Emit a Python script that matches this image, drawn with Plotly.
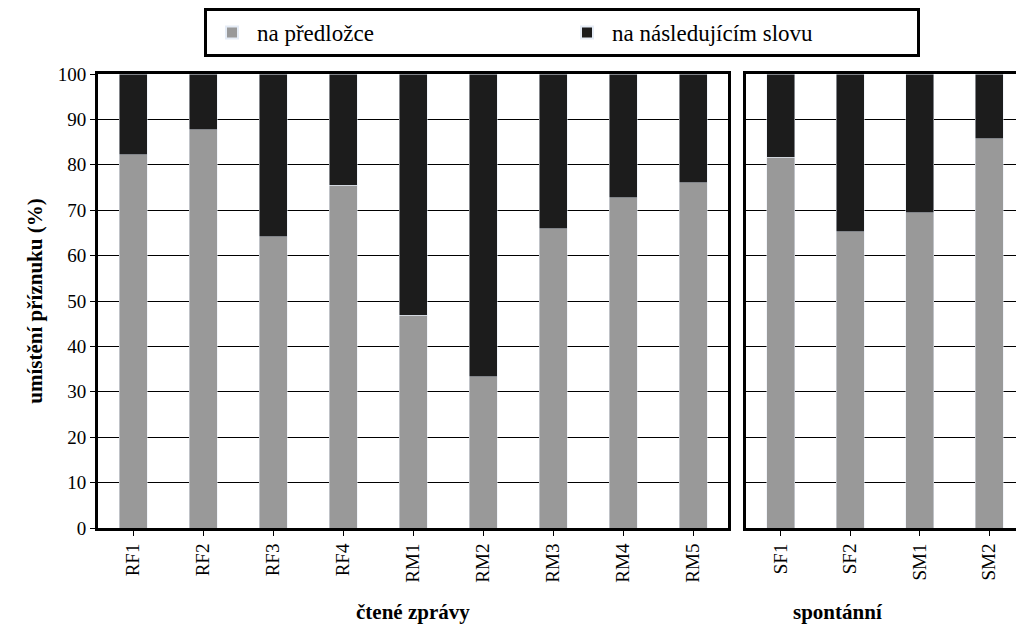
import plotly.graph_objects as go
from plotly.subplots import make_subplots

read_cats = ["RF1", "RF2", "RF3", "RF4", "RM1", "RM2", "RM3", "RM4", "RM5"]
read_prep = [82.2, 87.7, 64.1, 75.5, 46.9, 33.3, 65.9, 72.7, 76.0]
spont_cats = ["SF1", "SF2", "SM1", "SM2"]
spont_prep = [81.7, 65.2, 69.4, 85.7]

GRAY = "#999999"
BLACK = "#1c1c1c"
FONT = "Liberation Serif"

fig = make_subplots(rows=1, cols=2, shared_yaxes=True)

for col, cats, prep in ((1, read_cats, read_prep), (2, spont_cats, spont_prep)):
    fig.add_trace(go.Bar(x=cats, y=prep, name="na předložce", marker_color=GRAY,
                         showlegend=(col == 1)), row=1, col=col)
    fig.add_trace(go.Bar(x=cats, y=[100 - v for v in prep], name="na následujícím slovu",
                         marker_color=BLACK, showlegend=(col == 1)), row=1, col=col)

fig.update_layout(
    barmode="stack", bargap=0.6,
    width=1024, height=632,
    margin=dict(l=0, r=0, t=0, b=0, autoexpand=False),
    plot_bgcolor="white", paper_bgcolor="white",
    font=dict(family=FONT, size=20, color="black"),
    legend=dict(orientation="h", x=554 / 1024, xanchor="center", y=1.0, yanchor="top",
                bordercolor="black", borderwidth=3, traceorder="normal",
                font=dict(family=FONT, size=23), itemwidth=40,
                entrywidth=300, itemsizing="constant"),
)
axis_common = dict(showline=True, linecolor="black", linewidth=3, mirror=True,
                   tickangle=-90, ticks="outside", tickcolor="black", automargin=False,
                   tickfont=dict(family=FONT, size=19))
fig.update_xaxes(domain=[90 / 1024, 720 / 1024], row=1, col=1, **axis_common)
fig.update_xaxes(domain=[738 / 1024, 1016 / 1024], row=1, col=2, **axis_common)
fig.update_yaxes(range=[0, 100], dtick=10, showgrid=True, gridcolor="black", gridwidth=1,
                 showline=True, linecolor="black", linewidth=3, mirror=True, automargin=False,
                 ticks="outside", tickcolor="black", domain=[112 / 632, 566 / 632],
                 tickfont=dict(family=FONT, size=19))
fig.update_yaxes(title=dict(text="<b>umístění příznuku (%)</b>",
                            font=dict(family=FONT, size=21), standoff=10),
                 row=1, col=1)
fig.update_yaxes(showticklabels=False, ticks="", row=1, col=2)

fig.add_annotation(text="<b>čtené zprávy</b>", x=405 / 1024, y=14 / 632, xref="paper",
                   yref="paper", showarrow=False, font=dict(family=FONT, size=21))
fig.add_annotation(text="<b>spontánní</b>", x=877 / 1024, y=14 / 632, xref="paper",
                   yref="paper", showarrow=False, font=dict(family=FONT, size=21))

fig.write_html("out.html")
